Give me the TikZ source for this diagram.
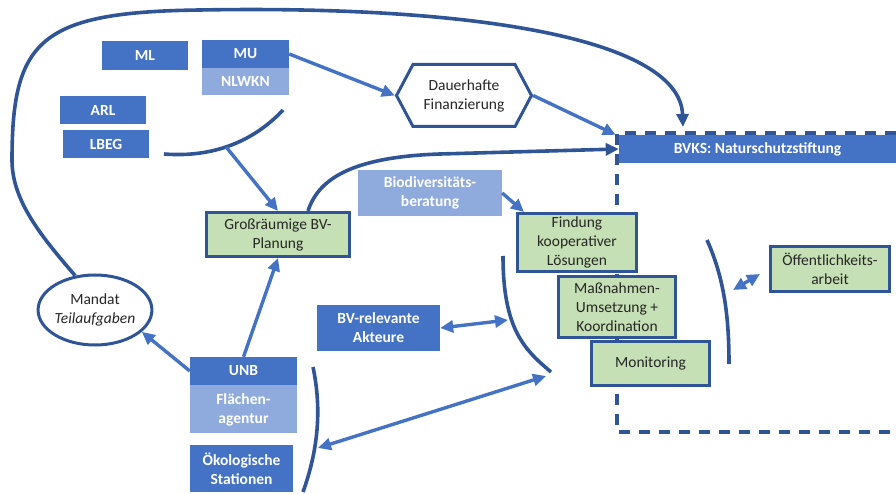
\documentclass[tikz,border=0pt]{standalone}
\usepackage{fontspec}
\setmainfont{Carlito}
\usepackage{tikz}
\usetikzlibrary{arrows.meta, positioning, shapes.geometric, shapes.symbols}

\definecolor{boxblue}{HTML}{4472C4}
\definecolor{paleblue}{HTML}{8FAADC}
\definecolor{darkline}{HTML}{2F5597}
\definecolor{palegreen}{HTML}{C5E0B4}
\definecolor{textgray}{HTML}{262626}

\begin{document}
\begin{tikzpicture}[
    x=1pt, y=-1pt,
    base/.style={inner sep=0pt, align=center, font=\fontsize{15.5}{19}\selectfont},
    bluebox/.style={base, fill=boxblue, text=white, font=\fontsize{15.5}{19}\selectfont\bfseries},
    lightbox/.style={bluebox, fill=paleblue},
    greenbox/.style={base, draw=darkline, line width=3pt, fill=palegreen, text=textgray},
    arrow/.style={-{Triangle[length=13pt, width=12pt]}, line width=3.4pt, boxblue},
    dblarrow/.style={{Triangle[length=13pt, width=12pt]}-{Triangle[length=13pt, width=12pt]}, line width=3.4pt, boxblue},
    curve/.style={line width=3.6pt, darkline},
    frame/.style={line width=3.4pt, darkline, dash pattern=on 11pt off 9pt}
]
\useasboundingbox (0,0) rectangle (896,494);

% --- Naturschutzstiftung frame ---
\draw[frame] (896,133) -- (617,133) -- (617,432) -- (896,432);
\node[bluebox, minimum width=277pt, minimum height=28pt] (bvks) at (757.5,149) {BVKS: Naturschutzstiftung};

% --- Ministries and agencies ---
\node[bluebox, minimum width=86pt, minimum height=29pt] (ml) at (145,55.5) {ML};
\node[bluebox, minimum width=87pt, minimum height=28pt] (mu) at (245.5,54) {MU};
\node[lightbox, minimum width=87pt, minimum height=27pt, below=0pt of mu] (nlwkn) {NLWKN};
\node[bluebox, minimum width=86pt, minimum height=28pt] (arl) at (103,110) {ARL};
\node[bluebox, minimum width=86pt, minimum height=28pt] (lbeg) at (106,144) {LBEG};

% --- Funding ---
\node[base, shape=signal, signal to=east and west, signal pointer angle=124,
      draw=darkline, line width=3pt, fill=white, text=textgray,
      minimum width=135pt, minimum height=62pt] (dauer) at (464,95.5) {Dauerhafte\\Finanzierung};

% --- Planning ---
\node[greenbox, minimum width=143pt, minimum height=44pt] (gross) at (278,234.5) {Großräumige BV-\\Planung};
\node[lightbox, minimum width=144pt, minimum height=46pt] (biodiv) at (430,193) {Biodiversitäts-\\beratung};

% --- Lower district level ---
\node[bluebox, minimum width=107pt, minimum height=28pt] (unb) at (243.5,371) {UNB};
\node[lightbox, minimum width=107pt, minimum height=48pt, below=0pt of unb] (flaeche) {Flächen-\\agentur};
\node[bluebox, minimum width=103pt, minimum height=47pt] (oeko) at (241.5,468.5) {Ökologische\\Stationen};
\node[bluebox, minimum width=123pt, minimum height=46pt] (akteure) at (378.5,328) {BV-relevante\\Akteure};
\node[base, ellipse, draw=darkline, line width=3pt, fill=white, text=textgray,
      minimum width=96pt, minimum height=70pt] (mandat) at (95,310) {Mandat\\\textit{Teilaufgaben}};

% --- Tasks ---
\node[greenbox, minimum width=119pt, minimum height=58pt] (findung) at (577,242.5) {Findung\\kooperativer\\Lösungen};
\node[greenbox, minimum width=117pt, minimum height=61pt] (massn) at (617,307) {Maßnahmen-\\Umsetzung +\\Koordination};
\node[greenbox, minimum width=118pt, minimum height=44pt] (monitor) at (650.5,363.5) {Monitoring};
\node[greenbox, minimum width=119pt, minimum height=45pt] (oeff) at (830,269) {Öffentlichkeits-\\arbeit};

% --- Brackets ---
\draw[curve] (164,154) .. controls (215,158) and (255,140) .. (283,110) coordinate[pos=0.45] (lbegjoin);
\draw[curve] (503,256) .. controls (503,330) and (525,350) .. (551,372);
\coordinate (leftjoin) at (508,320);
\coordinate (lowjoin) at (546,376);
\draw[curve] (707,240) .. controls (725,280) and (729,320) .. (729,364);
\coordinate (rightjoin) at (733,290);
\draw[curve] (313,367) .. controls (322,410) and (318,450) .. (303,492);
\coordinate (unbjoin) at (318,448);
\coordinate (loopend) at (683,127);

% --- Arrows ---
\draw[curve, -{Triangle[length=13pt, width=12pt]}] (mandat.120) .. controls (40,235) and (12,200) .. (12,160)
    .. controls (12,40) and (40,12) .. (200,10) .. controls (480,5) and (680,40) .. (loopend);
\draw[curve, -{Triangle[length=13pt, width=12pt]}] (gross.north east) ++(-43,0) .. controls (318,180) and (350,157) .. (440,154) -- (bvks.west);
\draw[arrow] (mu.east) -- (dauer.west);
\draw[arrow] (dauer.east) -- ([xshift=-3pt]bvks.north west);
\draw[arrow] (biodiv.east) -- ([xshift=8pt]findung.north west);
\draw[arrow] (lbegjoin) -- (gross.north);
\draw[arrow] (unb.north) -- (gross.south);
\draw[arrow] (unb.west) -- (mandat.-25);
\draw[dblarrow] (akteure.east) -- (leftjoin);
\draw[dblarrow] (unbjoin) -- (lowjoin);
\draw[dblarrow] (rightjoin) -- ([xshift=-9pt, yshift=-5pt]oeff.west);

\end{tikzpicture}
\end{document}
